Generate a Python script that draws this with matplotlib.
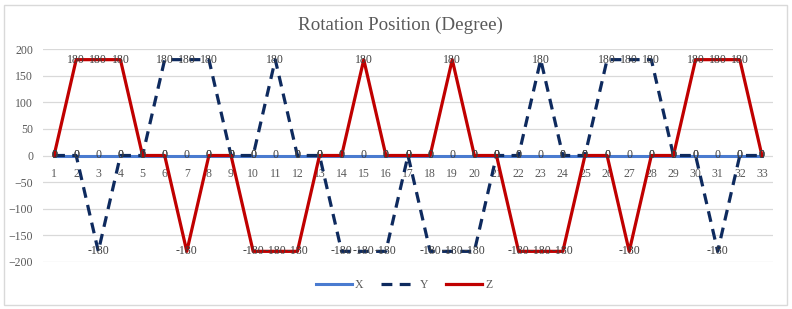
import numpy as np
import matplotlib
matplotlib.use("Agg")
import matplotlib.pyplot as plt
from matplotlib.patches import Rectangle

# step index along the rotation sequence
steps = list(range(1, 34))

x_deg = [0] * 33
y_deg = [0, 0, -180, 0, 0, 180, 180, 180, 0, 0, 180, 0, 0, -180, -180, -180, 0,
         -180, -180, -180, 0, 0, 180, 0, 0, 180, 180, 180, 0, 0, -180, 0, 0]
z_deg = [0, 180, 180, 180, 0, 0, -180, 0, 0, -180, -180, -180, 0, 0, 180, 0, 0,
         0, 180, 0, 0, -180, -180, -180, 0, 0, -180, 0, 0, 180, 180, 180, 0]

y_ticks = [-200, -150, -100, -50, 0, 50, 100, 150, 200]

plt.rcParams['font.family'] = ['Liberation Serif', 'DejaVu Serif']
txt = '#595959'

fig = plt.figure(figsize=(7.92, 3.09), dpi=100)
fig.patches.append(Rectangle((4 / 792, 4 / 309), 783 / 792, 300 / 309,
                             transform=fig.transFigure, fill=False,
                             edgecolor='#D9D9D9', linewidth=1))

ax = fig.add_axes([43 / 792, 47 / 309, 730 / 792, 213 / 309])

series = [
    ('X', x_deg, dict(color='#4a7bd0', lw=2.2, ls='-')),
    ('Y', y_deg, dict(color='#0E2A5E', lw=2.3, dashes=(3.4, 2.3))),
    ('Z', z_deg, dict(color='#C00000', lw=2.3, ls='-')),
]

for name, vals, style in series:
    ax.plot(steps, vals, label=name, zorder=3, **style)
    for s, v in zip(steps, vals):
        ax.text(s, v, f'{v}', ha='center', va='center', fontsize=8.5,
                color='#404040', zorder=4)

ax.set_xlim(0.5, 33.5)
ax.set_ylim(-200, 200)
ax.set_yticks(y_ticks)
ax.set_xticks(steps)
ax.grid(axis='y', color='#D9D9D9', linewidth=0.9, zorder=0)
ax.set_axisbelow(True)

for side in ['top', 'right', 'left']:
    ax.spines[side].set_visible(False)
ax.spines['bottom'].set_position(('data', 0))
ax.spines['bottom'].set_visible(False)
ax.tick_params(axis='both', length=0, labelsize=8.5, labelcolor=txt)
ax.tick_params(axis='x', pad=9)
ax.tick_params(axis='y', pad=7)

fig.text(400 / 792, 1 - 25 / 309, 'Rotation Position (Degree)', fontsize=13.7,
         color=txt, ha='center', va='center')

ax.legend(loc='center', bbox_to_anchor=(0.495, -0.11), ncol=3, frameon=False,
          fontsize=8.5, labelcolor=txt, handlelength=3.0, handletextpad=0.3,
          columnspacing=1.5)

fig.savefig('out.png', dpi=100)
